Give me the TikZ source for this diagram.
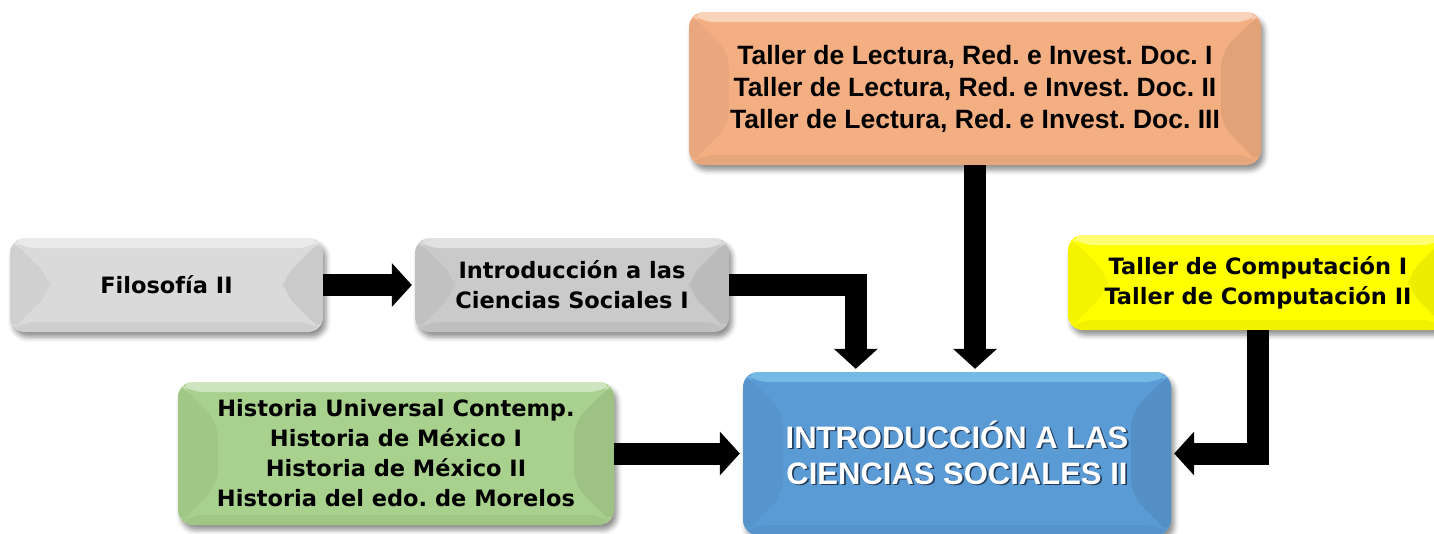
\documentclass[tikz,border=0pt]{standalone}
\usepackage{fontspec}
\setmainfont{DejaVu Sans}
\newfontfamily\arialf{Liberation Sans}
\usetikzlibrary{arrows.meta,shadows.blur,calc}
\definecolor{grayA}{RGB}{218,218,218}
\definecolor{grayB}{RGB}{202,202,202}
\definecolor{orangeC}{RGB}{243,175,130}
\definecolor{yellowC}{RGB}{255,255,0}
\definecolor{greenC}{RGB}{169,209,142}
\definecolor{blueC}{RGB}{91,155,213}
\definecolor{blueTop}{RGB}{150,225,250}
\definecolor{txtShadow}{RGB}{35,60,90}
\newcommand\shtxt[1]{\leavevmode\rlap{\kern1.6pt\raisebox{-1.6pt}{\textcolor{txtShadow}{#1}}}#1}
\tikzset{
  bevel/.style={path picture={
    \coordinate (pNW) at (path picture bounding box.north west);
    \coordinate (pNE) at (path picture bounding box.north east);
    \coordinate (pSW) at (path picture bounding box.south west);
    \coordinate (pSE) at (path picture bounding box.south east);
    \fill[black,opacity=.045] (pNW) -- ($(pNW)+(40,40)$) -- ($(pSW)+(40,-40)$) -- (pSW) -- cycle;
    \fill[black,opacity=.07] (pNE) -- ($(pNE)+(-40,40)$) -- ($(pSE)+(-40,-40)$) -- (pSE) -- cycle;
    \fill[#1,opacity=.45] (pNW) -- (pNE) -- ($(pNE)+(-10,10)$) -- ($(pNW)+(10,10)$) -- cycle;
    \fill[black,opacity=.05] (pSW) -- ($(pSW)+(10,-10)$) -- ($(pSE)+(-10,-10)$) -- (pSE) -- cycle;
  }},
  box/.style={rounded corners=15pt, inner sep=0pt, align=center,
    font=\bfseries\fontsize{22.5}{30}\selectfont,
    blur shadow={shadow xshift=3pt, shadow yshift=-5pt, shadow blur radius=5pt, shadow opacity=45},
    bevel=white},
  conn/.style={draw=black, line width=22pt, line join=miter, shorten >=3pt,
    -{Triangle[length=20pt,width=44pt,line width=0pt]}},
}
\frenchspacing
\begin{document}
\frenchspacing
\begin{tikzpicture}[x=1pt,y=-1pt]
\useasboundingbox (0,0) rectangle (1434,533);

\node[box, fill=grayA, minimum width=313pt, minimum height=94pt] (filo) at (166.5,285) {Filosofía II};
\node[box, fill=grayB, minimum width=314pt, minimum height=94pt] (intro) at (572,285)
  {\baselineskip=31pt Introducción a las\\Ciencias Sociales I};
\node[box, fill=orangeC, minimum width=572pt, minimum height=153pt,
  font=\arialf\bfseries\fontsize{26.5}{32}\selectfont] (orange) at (975,88.5)
  {Taller de Lectura, Red. e Invest. Doc. I\\Taller de Lectura, Red. e Invest. Doc. II\\Taller de Lectura, Red. e Invest. Doc. III};
\node[box, fill=yellowC, minimum width=380pt, minimum height=95pt] (yellow) at (1258,282.5)
  {Taller de Computación I\\Taller de Computación II};
\node[box, fill=greenC, minimum width=436pt, minimum height=143pt] (green) at (396,453.5)
  {Historia Universal Contemp.\\Historia de México I\\Historia de México II\\Historia del edo. de Morelos};
\node[box, fill=blueC, bevel=blueTop, minimum width=428pt, minimum height=163pt, text=white,
  font=\arialf\bfseries\fontsize{31}{36}\selectfont] (blue) at (957,453.5)
  {\shtxt{INTRODUCCIÓN A LAS}\\\shtxt{CIENCIAS SOCIALES II}};

\draw[conn] (filo.east) -- (intro.west);
\draw[conn] (intro.east) -| ($(blue.north west)+(113,0)$);
\draw[conn] (orange.south) -- (orange.south |- blue.north);
\draw[conn] (yellow.south) |- (blue.east);
\draw[conn] (green.east) -- (blue.west);
\end{tikzpicture}
\end{document}
